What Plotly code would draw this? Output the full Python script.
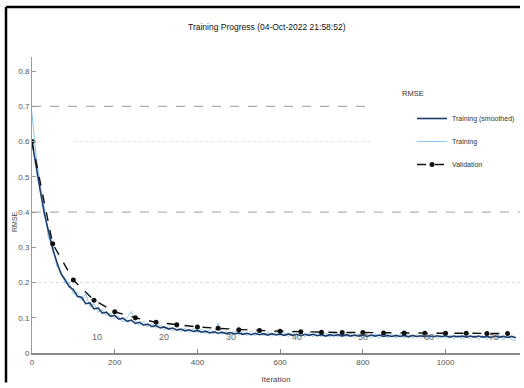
import plotly.graph_objects as go

# ---- data ----
train_iter = list(range(0, 1180, 10))
train_smoothed = [
    0.600, 0.525, 0.460, 0.395, 0.340, 0.295, 0.258, 0.225, 0.208, 0.188,
    0.180, 0.160, 0.158, 0.140, 0.142, 0.125, 0.128, 0.113, 0.116, 0.104,
    0.107, 0.096, 0.099, 0.090, 0.093, 0.084, 0.087, 0.079, 0.082, 0.075,
    0.078, 0.071, 0.074, 0.068, 0.071, 0.065, 0.068, 0.063, 0.066, 0.061,
    0.064, 0.059, 0.062, 0.057, 0.060, 0.056, 0.059, 0.055, 0.058, 0.054,
    0.057, 0.053, 0.056, 0.052, 0.056, 0.052, 0.055, 0.051, 0.055, 0.051,
    0.054, 0.050, 0.054, 0.050, 0.053, 0.049, 0.053, 0.050, 0.053, 0.049,
    0.052, 0.048, 0.052, 0.049, 0.052, 0.048, 0.052, 0.048, 0.051, 0.048,
    0.051, 0.047, 0.051, 0.048, 0.051, 0.047, 0.050, 0.047, 0.050, 0.047,
    0.050, 0.046, 0.050, 0.047, 0.049, 0.046, 0.049, 0.046, 0.049, 0.046,
    0.049, 0.045, 0.048, 0.046, 0.048, 0.045, 0.048, 0.045, 0.048, 0.045,
    0.047, 0.044, 0.048, 0.045, 0.047, 0.044, 0.047, 0.043,
]
train_raw = [
    0.680, 0.560, 0.475, 0.410, 0.325, 0.310, 0.245, 0.232, 0.198, 0.200,
    0.168, 0.172, 0.148, 0.168, 0.130, 0.140, 0.116, 0.124, 0.106, 0.112,
    0.098, 0.104, 0.088, 0.100, 0.118, 0.092, 0.078, 0.090, 0.074, 0.084,
    0.070, 0.080, 0.066, 0.076, 0.062, 0.074, 0.060, 0.072, 0.058, 0.070,
    0.057, 0.068, 0.055, 0.066, 0.053, 0.085, 0.052, 0.064, 0.051, 0.063,
    0.050, 0.062, 0.049, 0.062, 0.048, 0.061, 0.048, 0.060, 0.047, 0.060,
    0.047, 0.059, 0.046, 0.059, 0.046, 0.058, 0.046, 0.058, 0.045, 0.057,
    0.045, 0.057, 0.044, 0.057, 0.044, 0.056, 0.044, 0.056, 0.043, 0.055,
    0.043, 0.055, 0.043, 0.055, 0.042, 0.054, 0.042, 0.054, 0.042, 0.054,
    0.041, 0.053, 0.041, 0.053, 0.041, 0.053, 0.040, 0.052, 0.040, 0.052,
    0.040, 0.052, 0.039, 0.051, 0.039, 0.051, 0.039, 0.051, 0.038, 0.050,
    0.038, 0.050, 0.038, 0.050, 0.037, 0.049, 0.037, 0.036,
]
val_iter = list(range(0, 1200, 50))
val_rmse = [0.600, 0.310, 0.207, 0.150, 0.117, 0.100, 0.087, 0.080, 0.074, 0.070,
            0.066, 0.064, 0.062, 0.060, 0.059, 0.058, 0.058, 0.057, 0.057, 0.056,
            0.056, 0.056, 0.055, 0.055]
epoch_labels = ["10", "20", "30", "40", "50", "60", "70"]
epoch_iter = [157, 320, 482, 641, 800, 959, 1118]
x_ticks = [0, 200, 400, 600, 800, 1000]
y_ticks = [0, 0.1, 0.2, 0.3, 0.4, 0.5, 0.6, 0.7, 0.8]
y_ticktext = ["0", "0.1", "0.2", "0.3", "0.4", "0.5", "0.6", "0.7", "0.8"]

FONT = "Liberation Sans Narrow, Arial Narrow, Liberation Sans, sans-serif"

fig = go.Figure()
fig.add_trace(go.Scatter(x=train_iter, y=train_raw, mode="lines",
                         name="Training", legendrank=2, legendgroup="b",
                         line=dict(color="#8fc6ea", width=1)))
fig.add_trace(go.Scatter(x=train_iter, y=train_smoothed, mode="lines",
                         name="Training (smoothed)", legendrank=1, legendgroup="a",
                         line=dict(color="#1d3d6e", width=1.6)))
fig.add_trace(go.Scatter(x=val_iter, y=val_rmse, mode="lines+markers",
                         name="Validation", legendrank=3, legendgroup="c",
                         line=dict(color="#111111", width=1.4, dash="dash"),
                         marker=dict(symbol="circle", size=5, color="#111111")))

shapes = [
    dict(type="line", xref="x", yref="y", x0=0, x1=810, y0=0.7, y1=0.7,
         line=dict(color="#aaaaaa", width=1.2, dash="dash"), layer="below"),
    dict(type="line", xref="x", yref="y", x0=100, x1=820, y0=0.6, y1=0.6,
         line=dict(color="#e2e2e2", width=1, dash="dot"), layer="below"),
    dict(type="line", xref="paper", yref="y", x0=0, x1=1.0, y0=0.4, y1=0.4,
         line=dict(color="#b5b5b5", width=1.2, dash="dash"), layer="below"),
    dict(type="line", xref="paper", yref="y", x0=0, x1=1.0, y0=0.2, y1=0.2,
         line=dict(color="#dddddd", width=1, dash="dot"), layer="below"),
    # outer black frame (top and left edges visible)
    dict(type="line", xref="paper", yref="paper",
         x0=(6 - 32) / 488, x1=1.0,
         y0=(353 - 7) / 296, y1=(353 - 7) / 296,
         line=dict(color="black", width=2.5)),
    dict(type="line", xref="paper", yref="paper",
         x0=(6 - 32) / 488, x1=(6 - 32) / 488,
         y0=(353 - 7) / 296, y1=-0.1,
         line=dict(color="black", width=2.5)),
]

annotations = [
    dict(text="Training Progress (04-Oct-2022 21:58:52)", xref="paper", yref="paper",
         x=(267 - 32) / 488, y=(353 - 20) / 296, showarrow=False,
         font=dict(family=FONT, size=8.5, color="#111111")),
    dict(text="RMSE", xref="paper", yref="paper", xanchor="center", yanchor="middle",
         x=(14 - 32) / 488, y=(353 - 222) / 296, textangle=-90, showarrow=False,
         font=dict(family=FONT, size=7, color="#444444")),
    dict(text="RMSE", xref="paper", yref="paper", xanchor="left", yanchor="middle",
         x=(400 - 32) / 488, y=(353 - 93) / 296, showarrow=False,
         font=dict(family=FONT, size=7.5, color="#333333")),
]
for lab, it in zip(epoch_labels, epoch_iter):
    annotations.append(dict(text=lab, x=it, y=0.045, xref="x", yref="y", showarrow=False,
                            font=dict(family=FONT, size=9, color="#666666")))

fig.update_layout(
    width=524, height=388,
    margin=dict(l=32, r=4, t=57, b=35),
    paper_bgcolor="white", plot_bgcolor="white",
    font=dict(family=FONT, size=8, color="#555555"),
    showlegend=True,
    legend=dict(x=(412 - 32) / 488, y=(353 - 104) / 296, xanchor="left", yanchor="top",
                bgcolor="rgba(255,255,255,0)", font=dict(family=FONT, size=7, color="#333333"),
                tracegroupgap=4, itemwidth=30, traceorder="grouped", borderwidth=0),
    shapes=shapes, annotations=annotations,
    xaxis=dict(range=[0, 1180], tickvals=x_ticks, ticktext=[str(v) for v in x_ticks],
               showgrid=False, zeroline=False, showline=True, linecolor="#8a8a8a",
               linewidth=2, ticks="inside", ticklen=4, tickcolor="#8a8a8a",
               title=dict(text="Iteration", font=dict(family=FONT, size=8, color="#444444"),
                          standoff=11)),
    yaxis=dict(range=[0, 0.84], tickvals=y_ticks, ticktext=y_ticktext,
               showgrid=False, zeroline=False, showline=True, linecolor="#9a9a9a",
               linewidth=1, ticks="inside", ticklen=4, tickcolor="#9a9a9a"),
)

fig.write_html("out.html")
